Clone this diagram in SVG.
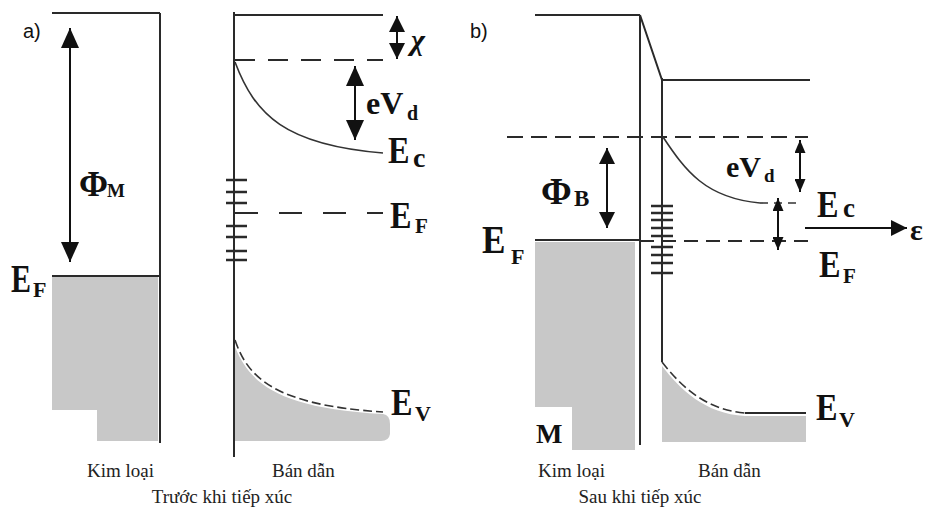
<svg xmlns="http://www.w3.org/2000/svg" width="931" height="511" viewBox="0 0 931 511">
<style>
.ln{stroke:#2a2a2a;stroke-width:2;fill:none}
.lt{stroke:#333;stroke-width:1.6;fill:none}
.tk{stroke:#2a2a2a;stroke-width:2.5;fill:none}
.fill{fill:#c8c8c8;stroke:none}
.ar{stroke:#111;stroke-width:2;fill:none}
.lbl{font-family:"Liberation Serif","Times New Roman",serif;font-weight:bold;fill:#111}
.cap{font-family:"Liberation Serif","Times New Roman",serif;font-size:19px;fill:#222}
.tag{font-family:"Liberation Sans",Arial,sans-serif;font-size:20px;fill:#111}
</style>
<defs>
<marker id="ah" markerUnits="userSpaceOnUse" markerWidth="20" markerHeight="18" refX="20" refY="9" orient="auto-start-reverse"><path d="M0,0 L20,9 L0,18 z" fill="#111"/></marker>
<marker id="am" markerUnits="userSpaceOnUse" markerWidth="16" markerHeight="16" refX="16" refY="8" orient="auto-start-reverse"><path d="M0,0 L16,8 L0,16 z" fill="#111"/></marker>
<marker id="as" markerUnits="userSpaceOnUse" markerWidth="13" markerHeight="11" refX="13" refY="5.5" orient="auto-start-reverse"><path d="M0,0 L13,5.5 L0,11 z" fill="#111"/></marker>
</defs>

<g id="panel-a">
<text class="tag" x="23" y="38">a)</text>
<g id="a-metal">
<path class="fill" d="M52,277 H158 V441 H97 V410 H52 Z"/>
<path class="ln" d="M52,13 H160 M160,13 V443"/>
<path class="ln" stroke-width="2.5" d="M52,276 H160"/>
<text class="lbl" transform="translate(11,292) scale(0.75,1)" font-size="40">E</text>
<text class="lbl" x="33" y="297" font-size="22">F</text>
<text class="lbl" x="79" y="196" font-size="35">Φ</text>
<text class="lbl" x="107" y="197" font-size="19">M</text>
</g>
<g id="a-semiconductor">
<path class="fill" d="M235,347 C250,383 277,408 383,414 Q390,415 390,424 L390,434 Q389,441 381,441 H235 Z"/>
<path class="ln" d="M234,12 V457 M234,15 H383"/>
<path class="ln" stroke-dasharray="20 13" d="M235,60 H383"/>
<path class="lt" d="M235,62 C255,115 285,145 383,153"/>
<path class="ln" stroke-dasharray="23 21" d="M235,213 H383"/>
<path class="tk" d="M226,180 H247 M226,192 H247 M226,203 H247 M226,226 H247 M226,237 H247 M226,251 H247 M226,260 H247"/>
<path class="lt" stroke-dasharray="9 4" d="M235,340 C248,378 275,405 383,412"/>
<text class="lbl" x="411" y="50" font-size="30" font-style="italic" font-weight="normal">χ</text>
<text class="lbl" x="366" y="114" font-size="32">eV</text>
<text class="lbl" x="407" y="120" font-size="20">d</text>
<text class="lbl" transform="translate(388,163) scale(0.85,1)" font-size="38">E</text>
<text class="lbl" x="413" y="167" font-size="28">c</text>
<text class="lbl" transform="translate(390,228) scale(0.85,1)" font-size="38">E</text>
<text class="lbl" x="415" y="233" font-size="21">F</text>
<text class="lbl" transform="translate(391,415) scale(0.85,1)" font-size="38">E</text>
<text class="lbl" x="415" y="421" font-size="22">V</text>
</g>
<text class="cap" x="87" y="477">Kim loại</text>
<text class="cap" x="272" y="477">Bán dẫn</text>
<text class="cap" x="222" y="503" text-anchor="middle">Trước khi tiếp xúc</text>
</g>

<g id="panel-b">
<text class="tag" x="470" y="38">b)</text>
<g id="b-metal">
<path class="fill" d="M535,242 H635 V450 H572 V407 H535 Z"/>
<path class="ln" d="M535,15 H640 M640,15 V445"/>
<path class="ln" stroke-width="2.5" d="M535,240 H640"/>
<text class="lbl" transform="translate(482,253) scale(0.88,1)" font-size="40">E</text>
<text class="lbl" x="511" y="264" font-size="22">F</text>
<text class="lbl" x="541" y="204" font-size="37">Φ</text>
<text class="lbl" x="574" y="206" font-size="23">B</text>
<text class="lbl" x="536" y="443" font-size="28">M</text>
</g>
<g id="b-semiconductor">
<path class="fill" d="M662,366 C680,389 705,414 745,416 H806 V442 H662 Z"/>
<path class="ln" d="M640,15 L662,80 M662,78 V362 M662,80 H810"/>
<path class="ln" stroke-dasharray="16 8" d="M507,137 H808"/>
<path class="ln" stroke-dasharray="14 8" d="M640,241 H808"/>
<path class="tk" d="M651,206 H673 M651,213 H673 M651,220 H673 M651,228 H673 M651,236 H673 M651,247 H673 M651,255 H673 M651,263 H673 M651,273 H673"/>
<path class="lt" d="M663,137 C685,170 705,198 760,203"/>
<path class="lt" stroke-dasharray="8 6" d="M760,203 H800"/>
<path class="lt" stroke-dasharray="9 4" d="M662,362 C680,385 705,410 745,413"/>
<path class="ln" stroke-width="2.5" d="M745,413 H806"/>
<text class="lbl" x="726" y="177" font-size="30">eV</text>
<text class="lbl" x="764" y="182" font-size="19">d</text>
<text class="lbl" transform="translate(817,217) scale(0.85,1)" font-size="38">E</text>
<text class="lbl" x="843" y="217" font-size="27">c</text>
<text class="lbl" transform="translate(819,277) scale(0.85,1)" font-size="38">E</text>
<text class="lbl" x="843" y="283" font-size="21">F</text>
<text class="lbl" transform="translate(816,420) scale(0.85,1)" font-size="38">E</text>
<text class="lbl" x="839" y="427" font-size="22">V</text>
<text class="lbl" x="910" y="240" font-size="30">ε</text>
</g>
<text class="cap" x="538" y="477">Kim loại</text>
<text class="cap" x="698" y="477">Bán dẫn</text>
<text class="cap" x="640" y="503" text-anchor="middle">Sau khi tiếp xúc</text>
</g>

<g id="connectors">
<line class="ar" x1="70" y1="28" x2="70" y2="262" marker-start="url(#ah)" marker-end="url(#ah)"/>
<line class="ar" x1="397" y1="16" x2="397" y2="59" marker-start="url(#am)" marker-end="url(#am)"/>
<line class="ar" x1="355" y1="66" x2="355" y2="140" marker-start="url(#ah)" marker-end="url(#ah)"/>
<line class="ar" x1="607" y1="148" x2="607" y2="228" marker-start="url(#am)" marker-end="url(#am)"/>
<line class="ar" x1="800" y1="140" x2="800" y2="192" marker-start="url(#as)" marker-end="url(#as)"/>
<line class="ar" x1="778" y1="198" x2="778" y2="250" marker-start="url(#as)" marker-end="url(#as)"/>
<line class="ar" x1="805" y1="228" x2="907" y2="228" marker-end="url(#am)"/>
</g>
</svg>
